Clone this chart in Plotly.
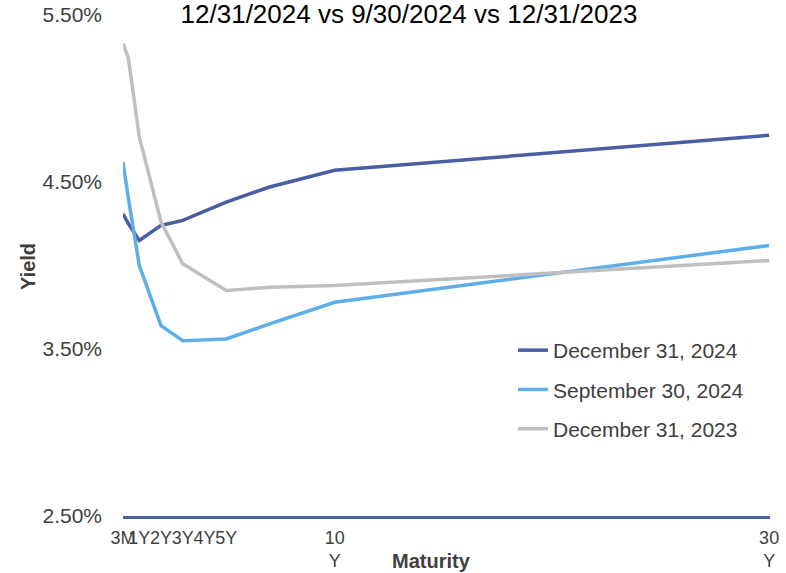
import plotly.graph_objects as go

# Maturity in years
maturity = [0.25, 0.5, 1, 2, 3, 5, 7, 10, 30]
dec_2024 = [4.31, 4.25, 4.15, 4.24, 4.27, 4.38, 4.47, 4.57, 4.78]
sep_2024 = [4.62, 4.40, 4.00, 3.64, 3.55, 3.56, 3.65, 3.78, 4.12]
dec_2023 = [5.33, 5.24, 4.77, 4.26, 4.01, 3.85, 3.87, 3.88, 4.03]

series_names = ["December 31, 2024", "September 30, 2024", "December 31, 2023"]
series_values = [dec_2024, sep_2024, dec_2023]
series_colors = ["#4A5EA4", "#5EAEE9", "#BFBFBF"]

x_tick_vals = [0.25, 1, 2, 3, 4, 5, 10, 30]
x_tick_text = ["3M", "1Y", "2Y", "3Y", "4Y", "5Y", "10<br>Y", "30<br>Y"]
y_tick_vals = [2.5, 3.5, 4.5, 5.5]
y_tick_text = ["2.50%", "3.50%", "4.50%", "5.50%"]

title_text = "12/31/2024 vs 9/30/2024 vs 12/31/2023"
FONT = "Liberation Sans, Arial, sans-serif"

fig = go.Figure()
for i, (name, vals, col) in enumerate(zip(series_names, series_values, series_colors)):
    fig.add_trace(go.Scatter(
        x=maturity, y=vals, mode="lines", name=name,
        line=dict(color=col, width=3.5),
        legendgroup=f"g{i}",
    ))

W, H = 786, 573
ml, mr, mt, mb = 123, 16, 15, 57
pw = W - ml - mr
ph = H - mt - mb

def px_to_paper_x(px):
    return (px - ml) / pw

def py_to_paper_y(py):
    return (H - mb - py) / ph

fig.update_layout(
    width=W, height=H,
    margin=dict(l=ml, r=mr, t=mt, b=mb, pad=0, autoexpand=False),
    paper_bgcolor="white", plot_bgcolor="white",
    font=dict(family=FONT, color="#404040", size=20),
    title=dict(
        text=title_text, xref="container", yref="container",
        x=409 / W, xanchor="center", y=1 - 14 / H, yanchor="middle",
        font=dict(size=26, color="#000000", family=FONT),
    ),
    showlegend=True,
    legend=dict(
        x=px_to_paper_x(513), xanchor="left",
        y=py_to_paper_y(330), yanchor="top",
        bgcolor="rgba(0,0,0,0)",
        font=dict(size=21, color="#404040", family=FONT),
        tracegroupgap=9,
    ),
    xaxis=dict(
        range=[0.25, 30.04],
        tickmode="array", tickvals=x_tick_vals, ticktext=x_tick_text,
        tickfont=dict(size=18, color="#404040", family=FONT),
        tickangle=0, automargin=False,
        showgrid=False, zeroline=False,
        showline=True, linecolor="#4A5EA4", linewidth=3,
        ticks="", ticklabelstandoff=3,
    ),
    yaxis=dict(
        range=[2.5, 5.5],
        tickmode="array", tickvals=y_tick_vals, ticktext=y_tick_text,
        tickfont=dict(size=21, color="#404040", family=FONT),
        automargin=False,
        showgrid=False, zeroline=False, showline=False,
        ticks="", ticklabelstandoff=20,
    ),
    annotations=[
        dict(text="<b>Yield</b>", xref="paper", yref="paper",
             x=px_to_paper_x(28), y=py_to_paper_y(267),
             xanchor="center", yanchor="middle", textangle=-90,
             showarrow=False, font=dict(size=20, color="#404040", family=FONT)),
        dict(text="<b>Maturity</b>", xref="paper", yref="paper",
             x=px_to_paper_x(431), y=py_to_paper_y(561),
             xanchor="center", yanchor="middle",
             showarrow=False, font=dict(size=20, color="#404040", family=FONT)),
    ],
)

fig.write_html("out.html")
